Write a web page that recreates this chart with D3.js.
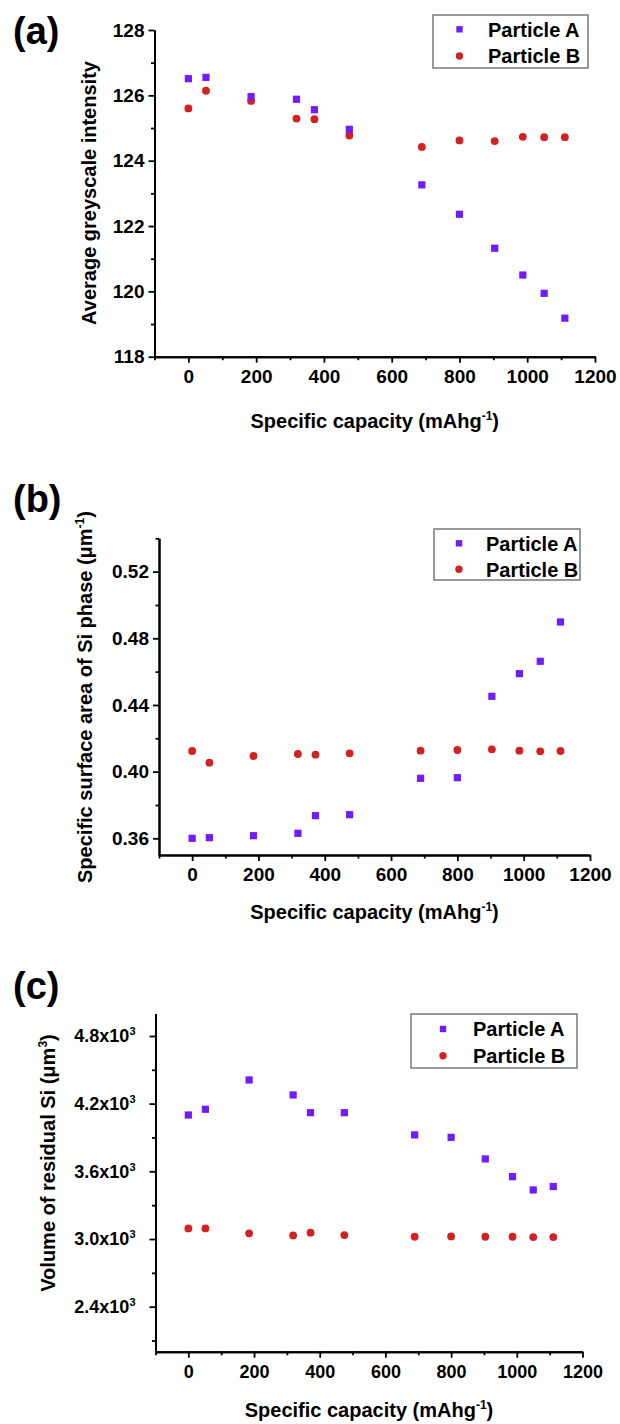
<!DOCTYPE html>
<html>
<head>
<meta charset="utf-8">
<script src="https://cdn.jsdelivr.net/npm/d3@7"></script>
<style>
  body { margin: 0; background: #fff; }
  svg { display: block; font-family: "Liberation Sans", Arial, sans-serif; font-weight: bold; }
</style>
</head>
<body>
<div id="chart"></div>
<script>
// values (x = specific capacity, same for every series)
var capacity = [0, 52, 185, 319, 372, 475, 689, 800, 904, 987, 1050, 1111];

var greyA = [126.51, 126.55, 125.96, 125.88, 125.56, 124.96, 123.26, 122.36, 121.32, 120.50, 119.94, 119.18];
var greyB = [125.60, 126.14, 125.83, 125.29, 125.27, 124.77, 124.42, 124.62, 124.60, 124.73, 124.72, 124.72];

var surfA = [0.3600, 0.3604, 0.3616, 0.3630, 0.3736, 0.3742, 0.3960, 0.3964, 0.4452, 0.4588, 0.4662, 0.4898];
var surfB = [0.4124, 0.4054, 0.4094, 0.4106, 0.4102, 0.4110, 0.4126, 0.4130, 0.4134, 0.4126, 0.4122, 0.4124];

var volA = [4099, 4150, 4410, 4277, 4120, 4120, 3923, 3901, 3710, 3553, 3435, 3465];
var volB = [3094, 3094, 3050, 3032, 3056, 3035, 3020, 3023, 3020, 3020, 3017, 3017];

var seriesNames = ["Particle A", "Particle B"];

var xTicks = [0, 200, 400, 600, 800, 1000, 1200];
var xMinor = [-100, 100, 300, 500, 700, 900, 1100];
var greyTicks = [118, 120, 122, 124, 126, 128];
var greyMinor = [119, 121, 123, 125, 127];
var surfTicks = [0.36, 0.40, 0.44, 0.48, 0.52];
var surfMinor = [0.38, 0.42, 0.46, 0.50, 0.54];
var volTicks = [2400, 3000, 3600, 4200, 4800];
var volMinor = [2100, 2700, 3300, 3900, 4500];

var colorA = "#6f1cff", colorB = "#d42020";

var svg = d3.select("#chart").append("svg")
  .attr("width", 620)
  .attr("height", 1424);

function styleAxis(ax, fs) {
  ax.attr("font-size", null).attr("font-family", null);
  ax.select(".domain").attr("stroke", "#000").attr("stroke-width", 2);
  ax.selectAll(".tick line").attr("stroke", "#000").attr("stroke-width", 1.8);
  ax.selectAll(".tick text").attr("fill", "#000").style("font-size", fs + "px");
}

// text with a superscript part, e.g. (mAhg^-1)
function supText(t, before, sup, after) {
  t.append("tspan").text(before);
  t.append("tspan").attr("dy", "-8px").style("font-size", "12px").text(sup);
  t.append("tspan").attr("dy", "8px").text(after);
}

function drawPanel(p) {
  var g = svg.append("g");
  var x = d3.scaleLinear().domain([-100, 1200]).range([p.left, p.right]);
  var y = d3.scaleLinear().domain(p.yDomain).range([p.bottom, p.top]);

  // x axis, major + minor ticks
  var xa = g.append("g").attr("transform", "translate(0," + p.bottom + ")")
    .call(d3.axisBottom(x).tickValues(xTicks).tickFormat(d3.format("d"))
      .tickSize(6).tickPadding(7).tickSizeOuter(0));
  styleAxis(xa, p.tickFont);
  var xm = g.append("g").attr("transform", "translate(0," + p.bottom + ")")
    .call(d3.axisBottom(x).tickValues(xMinor).tickSize(3.5).tickFormat("").tickSizeOuter(0));
  styleAxis(xm, p.tickFont);

  // y axis
  var ya = g.append("g").attr("transform", "translate(" + p.left + ",0)")
    .call(d3.axisLeft(y).tickValues(p.yTicks).tickSize(6).tickPadding(p.yPad)
      .tickFormat(p.yFormat).tickSizeOuter(0));
  styleAxis(ya, p.tickFont);
  var ym = g.append("g").attr("transform", "translate(" + p.left + ",0)")
    .call(d3.axisLeft(y).tickValues(p.yMinor).tickSize(3.5).tickFormat("").tickSizeOuter(0));
  styleAxis(ym, p.tickFont);

  if (p.sci) {
    ya.selectAll(".tick text").each(function(d) {
      var t = d3.select(this).text("");
      t.append("tspan").text((d / 1000).toFixed(1) + "x10");
      t.append("tspan").attr("dy", "-7px").style("font-size", "11px").text("3");
    });
  }

  // points
  var ptsA = capacity.map(function(c, i) { return [c, p.a[i]]; });
  var ptsB = capacity.map(function(c, i) { return [c, p.b[i]]; });

  g.append("g").selectAll("circle").data(ptsB).join("circle")
    .attr("cx", function(d) { return x(d[0]); })
    .attr("cy", function(d) { return y(d[1]); })
    .attr("r", 3.9)
    .attr("fill", colorB);

  g.append("g").selectAll("rect").data(ptsA).join("rect")
    .attr("x", function(d) { return x(d[0]) - 3.6; })
    .attr("y", function(d) { return y(d[1]) - 3.6; })
    .attr("width", 7.2).attr("height", 7.2)
    .attr("fill", colorA);

  // legend
  var L = p.legend;
  g.append("rect")
    .attr("x", L.x).attr("y", L.y).attr("width", L.w).attr("height", L.h)
    .attr("fill", "#fff").attr("stroke", "#777").attr("stroke-width", 1.5);
  g.append("rect")
    .attr("x", L.sym - 3.2).attr("y", L.rows[0] - 3.2).attr("width", 6.4).attr("height", 6.4)
    .attr("fill", colorA);
  g.append("circle")
    .attr("cx", L.sym).attr("cy", L.rows[1]).attr("r", 3.7)
    .attr("fill", colorB);
  seriesNames.forEach(function(name, i) {
    g.append("text")
      .attr("x", L.text).attr("y", L.rows[i]).attr("dy", "0.36em")
      .style("font-size", "20px")
      .text(name);
  });

  // axis titles
  var xt = g.append("text")
    .attr("x", (p.left + p.right) / 2).attr("y", p.xTitleY)
    .attr("text-anchor", "middle").style("font-size", "20px");
  supText(xt, "Specific capacity (mAhg", "-1", ")");

  var yt = g.append("text")
    .attr("transform", "translate(" + p.yTitleX + "," + p.yTitleY + ") rotate(-90)")
    .attr("text-anchor", "middle").attr("dy", "0.36em").style("font-size", "20px");
  if (p.yTitleSup) supText(yt, p.yTitle, p.yTitleSup, ")");
  else yt.text(p.yTitle);

  // panel letter
  g.append("text")
    .attr("x", 13).attr("y", p.letterY)
    .style("font-size", "38px")
    .text(p.letter);
}

drawPanel({
  letter: "(a)", letterY: 44,
  left: 154.5, right: 595, top: 30, bottom: 356.7,
  yDomain: [118, 128], yTicks: greyTicks, yMinor: greyMinor,
  yFormat: d3.format("d"), yPad: 4, tickFont: 19,
  a: greyA, b: greyB,
  legend: { x: 433, y: 15, w: 155, h: 53, sym: 459.5, text: 488, rows: [29.3, 56] },
  xTitleY: 428,
  yTitle: "Average greyscale intensity", yTitleX: 89, yTitleY: 193
});

drawPanel({
  letter: "(b)", letterY: 512,
  left: 159, right: 590, top: 538.3, bottom: 855,
  yDomain: [0.35, 0.54], yTicks: surfTicks, yMinor: surfMinor,
  yFormat: d3.format(".2f"), yPad: 4, tickFont: 19,
  a: surfA, b: surfB,
  legend: { x: 434, y: 529, w: 146, h: 51, sym: 459, text: 486, rows: [543.3, 569.3] },
  xTitleY: 919,
  yTitle: "Specific surface area of Si phase (\u03bcm", yTitleSup: "-1", yTitleX: 85, yTitleY: 697
});

drawPanel({
  letter: "(c)", letterY: 999,
  left: 155.5, right: 582.5, top: 1013.4, bottom: 1351.8,
  yDomain: [2000, 5000], yTicks: volTicks, yMinor: volMinor,
  yFormat: d3.format("d"), yPad: 14, tickFont: 18, sci: true,
  a: volA, b: volB,
  legend: { x: 411, y: 1014, w: 166, h: 54, sym: 443, text: 473, rows: [1029, 1055.7] },
  xTitleY: 1417,
  yTitle: "Volume of residual Si (\u03bcm", yTitleSup: "3", yTitleX: 48, yTitleY: 1163
});
</script>
</body>
</html>
